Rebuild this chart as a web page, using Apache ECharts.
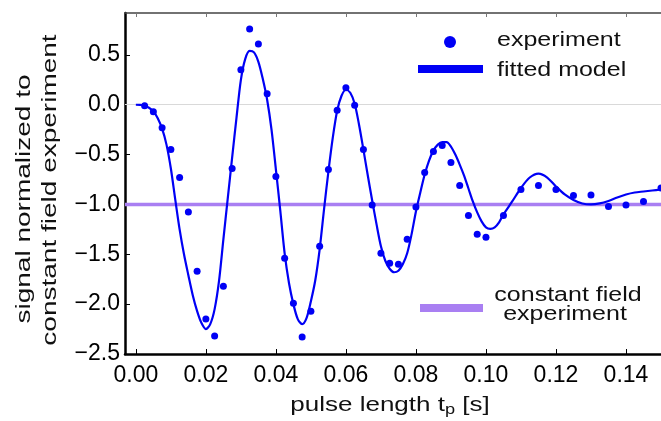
<!DOCTYPE html>
<html>
<head>
<meta charset="utf-8">
<script src="https://cdn.jsdelivr.net/npm/echarts@6/dist/echarts.min.js"></script>
<style>
  html, body { margin: 0; padding: 0; background: #ffffff; }
  #chart { width: 661px; height: 421px; }
</style>
</head>
<body>
<div id="chart"></div>
<script>
// Measured pulse lengths (s) and normalized signal
const pulseTimes = [
  0.0025, 0.005, 0.0075, 0.01, 0.0125, 0.015, 0.0175, 0.02, 0.0225, 0.025,
  0.0275, 0.03, 0.0325, 0.035, 0.0375, 0.04, 0.0425, 0.045, 0.0475, 0.05,
  0.0525, 0.055, 0.0575, 0.06, 0.0625, 0.065, 0.0675, 0.07, 0.0725, 0.075,
  0.0775, 0.08, 0.0825, 0.085, 0.0875, 0.09, 0.0925, 0.095, 0.0975, 0.1,
  0.105, 0.11, 0.115, 0.12, 0.125, 0.13, 0.135, 0.14, 0.145, 0.15
];
const measuredSignal = [
  -0.01, -0.07, -0.23, -0.45, -0.73, -1.075, -1.67, -2.15, -2.32, -1.82,
  -0.64, 0.35, 0.76, 0.61, 0.11, -0.72, -1.54, -1.99, -2.33, -2.07,
  -1.42, -0.65, -0.055, 0.17, -0.005, -0.45, -1.005, -1.49, -1.59, -1.60,
  -1.35, -1.025, -0.68, -0.47, -0.41, -0.58, -0.81, -1.11, -1.30, -1.33,
  -1.11, -0.85, -0.81, -0.85, -0.91, -0.905, -1.02, -1.005, -0.97, -0.835
];

// Fitted model, sampled along the pulse length
const fitTimes = [
  0, 0.00125, 0.0025, 0.00375, 0.005, 0.00625, 0.0075, 0.00875, 0.01, 0.01125,
  0.0125, 0.01375, 0.015, 0.01625, 0.0175, 0.01875, 0.02, 0.02125, 0.0225, 0.02375,
  0.025, 0.02625, 0.0275, 0.02875, 0.03, 0.03125, 0.0325, 0.03375, 0.035, 0.03625,
  0.0375, 0.03875, 0.04, 0.04125, 0.0425, 0.04375, 0.045, 0.04625, 0.0475, 0.04875,
  0.05, 0.05125, 0.0525, 0.05375, 0.055, 0.05625, 0.0575, 0.05875, 0.06, 0.06125,
  0.0625, 0.06375, 0.065, 0.06625, 0.0675, 0.06875, 0.07, 0.07125, 0.0725, 0.07375,
  0.075, 0.07625, 0.0775, 0.07875, 0.08, 0.08125, 0.0825, 0.08375, 0.085, 0.08625,
  0.0875, 0.08875, 0.09, 0.09125, 0.0925, 0.09375, 0.095, 0.09625, 0.0975, 0.09875,
  0.1, 0.10125, 0.1025, 0.10375, 0.105, 0.1075, 0.11, 0.1125, 0.115, 0.1175,
  0.12, 0.1225, 0.125, 0.1275, 0.13, 0.1325, 0.135, 0.1375, 0.14, 0.1425,
  0.145, 0.1475, 0.15
];
const fitSignal = [
  0, -0.002, -0.01, -0.03, -0.067, -0.135, -0.24, -0.40, -0.64, -0.95,
  -1.25, -1.50, -1.71, -1.91, -2.07, -2.19, -2.25, -2.2, -2.05, -1.77,
  -1.35, -0.94, -0.53, -0.13, 0.25, 0.46, 0.54, 0.525, 0.43, 0.26,
  0.05, -0.25, -0.65, -1.06, -1.49, -1.79, -2.0, -2.15, -2.2, -2.14,
  -1.97, -1.76, -1.45, -1.05, -0.67, -0.33, -0.06, 0.09, 0.15, 0.12,
  0.01, -0.2, -0.45, -0.71, -0.96, -1.2, -1.42, -1.565, -1.645, -1.68,
  -1.665, -1.6, -1.49, -1.3, -1.07, -0.88, -0.7, -0.56, -0.46, -0.4,
  -0.375, -0.375, -0.42, -0.5, -0.6, -0.71, -0.84, -0.97, -1.08, -1.17,
  -1.23, -1.245, -1.23, -1.18, -1.1, -0.97, -0.835, -0.73, -0.69, -0.73,
  -0.82, -0.9, -0.955, -0.99, -1.0, -0.99, -0.965, -0.93, -0.9, -0.88,
  -0.87, -0.86, -0.85
];

// Constant field reference level
const constantLevel = [-1, -1];
const constantSpan = [-0.0031, 0.15];

// Axis ticks and their labels
const xTicks = [0, 0.02, 0.04, 0.06, 0.08, 0.10, 0.12, 0.14];
const xTickLabels = ['0.00', '0.02', '0.04', '0.06', '0.08', '0.10', '0.12', '0.14'];
const yTicks = [-2.5, -2.0, -1.5, -1.0, -0.5, 0.0, 0.5];
const yTickLabels = ['\u22122.5', '\u22122.0', '\u22121.5', '\u22121.0', '\u22120.5', '0.0', '0.5'];

const BLUE = '#0000f5';
const PURPLE = '#a97ff2';
const FONT = 'Liberation Sans';

function labelFor(ticks, labels) {
  return function (v) {
    for (let i = 0; i < ticks.length; i++) {
      if (Math.abs(ticks[i] - v) < 1e-9) return labels[i];
    }
    return '';
  };
}

const chart = echarts.init(document.getElementById('chart'), null, { renderer: 'canvas' });

chart.setOption({
  animation: false,
  backgroundColor: '#ffffff',
  grid: { left: 125, right: 0, top: 13, bottom: 67, containLabel: false },
  xAxis: [
    {
      type: 'value', position: 'bottom',
      min: constantSpan[0], max: constantSpan[1],
      axisLine: { show: true, onZero: false, lineStyle: { color: '#000', width: 2.5 } },
      axisTick: { show: true, inside: true, length: 5, customValues: xTicks, lineStyle: { color: '#000', width: 1 } },
      axisLabel: {
        customValues: xTicks, formatter: labelFor(xTicks, xTickLabels),
        fontFamily: FONT, fontSize: 23, color: '#000', margin: 10
      },
      splitLine: { show: false }
    },
    {
      type: 'value', position: 'top',
      min: constantSpan[0], max: constantSpan[1],
      axisLine: { show: true, onZero: false, lineStyle: { color: '#444', width: 1.5 } },
      axisTick: { show: true, inside: true, length: 4, customValues: xTicks, lineStyle: { color: '#777', width: 1 } },
      axisLabel: { show: false },
      splitLine: { show: false }
    }
  ],
  yAxis: {
    type: 'value', min: -2.5, max: 0.92,
    axisLine: { show: true, onZero: false, lineStyle: { color: '#000', width: 2.5 } },
    axisTick: { show: true, inside: true, length: 5, customValues: yTicks, lineStyle: { color: '#000', width: 1 } },
    axisLabel: {
      customValues: yTicks, formatter: labelFor(yTicks, yTickLabels),
      fontFamily: FONT, fontSize: 23, color: '#000', margin: 5
    },
    splitLine: { show: false }
  },
  series: [
    {
      name: 'constant field experiment',
      type: 'line',
      data: constantSpan.map((t, i) => [t, constantLevel[i]]),
      showSymbol: false,
      lineStyle: { color: PURPLE, width: 3.5 },
      z: 2, silent: true
    },
    {
      name: 'fitted model',
      type: 'line',
      data: fitTimes.map((t, i) => [t, fitSignal[i]]),
      smooth: 0.3,
      showSymbol: false,
      lineStyle: { color: BLUE, width: 2.2 },
      z: 3, silent: true,
      markLine: {
        silent: true, symbol: 'none', label: { show: false },
        lineStyle: { color: '#d9d9d9', width: 1.2, type: 'solid' },
        data: [{ yAxis: 0 }],
        z: 1
      }
    },
    {
      name: 'experiment',
      type: 'scatter',
      data: pulseTimes.map((t, i) => [t, measuredSignal[i]]),
      symbolSize: 7,
      itemStyle: { color: BLUE, opacity: 1 },
      z: 4, silent: true
    }
  ],
  graphic: [
    // legend: experiment
    { type: 'circle', shape: { cx: 450, cy: 42, r: 6 }, style: { fill: BLUE }, z: 10 },
    { type: 'text', x: 497, y: 40, scaleX: 1.25,
      style: { text: 'experiment', font: '20px "Liberation Sans"', fill: '#111', textVerticalAlign: 'middle' }, z: 10 },
    // legend: fitted model
    { type: 'rect', shape: { x: 418, y: 65, width: 65, height: 8 }, style: { fill: BLUE }, z: 10 },
    { type: 'text', x: 497, y: 70, scaleX: 1.25,
      style: { text: 'fitted model', font: '20px "Liberation Sans"', fill: '#111', textVerticalAlign: 'middle' }, z: 10 },
    // legend: constant field experiment
    { type: 'rect', shape: { x: 420, y: 304, width: 63, height: 8 }, style: { fill: PURPLE }, z: 10 },
    { type: 'text', x: 568, y: 295, scaleX: 1.25,
      style: { text: 'constant field', font: '20px "Liberation Sans"', fill: '#111', textAlign: 'center', textVerticalAlign: 'middle' }, z: 10 },
    { type: 'text', x: 565, y: 314, scaleX: 1.25,
      style: { text: 'experiment', font: '20px "Liberation Sans"', fill: '#111', textAlign: 'center', textVerticalAlign: 'middle' }, z: 10 },
    // x axis title
    { type: 'text', x: 390, y: 405, scaleX: 1.3,
      style: {
        text: 'pulse length t{sub|p} [s]',
        font: '20px "Liberation Sans"', fill: '#111', textAlign: 'center', textVerticalAlign: 'middle',
        rich: { sub: { font: '14px "Liberation Sans"', fill: '#111', padding: [10, 0, 0, 0] } }
      }, z: 10 },
    // y axis title
    { type: 'text', x: 24, y: 199, rotation: Math.PI / 2, scaleX: 1.4,
      style: { text: 'signal normalized to', font: '20px "Liberation Sans"', fill: '#111', textAlign: 'center', textVerticalAlign: 'middle' }, z: 10 },
    { type: 'text', x: 50, y: 190, rotation: Math.PI / 2, scaleX: 1.4,
      style: { text: 'constant field experiment', font: '20px "Liberation Sans"', fill: '#111', textAlign: 'center', textVerticalAlign: 'middle' }, z: 10 }
  ]
});
</script>
</body>
</html>
